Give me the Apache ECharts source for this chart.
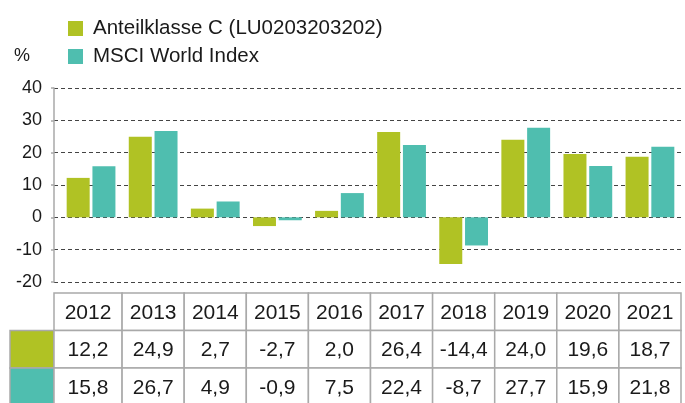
<!DOCTYPE html>
<html><head><meta charset="utf-8">
<script src="https://cdn.jsdelivr.net/npm/echarts@6/dist/echarts.min.js"></script>
<style>html,body{margin:0;padding:0;background:#fff}#c{width:685px;height:403px}</style>
</head><body><div id="c"></div><script>
const years = ['2012','2013','2014','2015','2016','2017','2018','2019','2020','2021'];
const fundName = 'Anteilklasse C (LU0203203202)';
const indexName = 'MSCI World Index';
const fundValues = [12.2, 24.9, 2.7, -2.7, 2.0, 26.4, -14.4, 24.0, 19.6, 18.7];
const indexValues = [15.8, 26.7, 4.9, -0.9, 7.5, 22.4, -8.7, 27.7, 15.9, 21.8];
const yMin = -20, yMax = 40, yStep = 10;
const unitLabel = '%';

const GREEN = '#b0c224', TEAL = '#4fbeaf', BORDER = '#a9a9a9', TXT = '#1a1a1a';
const FONT = "'Liberation Sans', Arial, sans-serif";
const AXIS_X = 54, PLOT_LEFT = 60, PLOT_RIGHT = 2, PLOT_TOP = 88, PLOT_H = 194;
const TABLE_TOP = 293, ROW_H = 37.5, SWATCH_LEFT = 10;

const chart = echarts.init(document.getElementById('c'), null, {renderer: 'canvas'});
const fmt = v => v.toFixed(1).replace('.', ',');

chart.setOption({
  animation: false,
  textStyle: {fontFamily: FONT},
  legend: {
    orient: 'vertical', left: 63, top: 13, itemWidth: 15, itemHeight: 15, itemGap: 7,
    icon: 'rect', textStyle: {fontSize: 20.5, color: TXT, fontFamily: FONT, padding: [0, 0, 0, 5]},
    data: [fundName, indexName]
  },
  grid: [
    {left: AXIS_X, right: PLOT_RIGHT, top: PLOT_TOP, height: PLOT_H},
    {left: PLOT_LEFT, right: PLOT_RIGHT + 2, top: PLOT_TOP, height: PLOT_H}
  ],
  xAxis: [
    {type: 'category', gridIndex: 0, data: years, show: false},
    {type: 'category', gridIndex: 1, data: years, show: false}
  ],
  yAxis: [
    {type: 'value', gridIndex: 0, min: yMin, max: yMax, interval: yStep,
     axisLine: {show: true, lineStyle: {color: BORDER, width: 1.5}},
     axisTick: {show: true, length: 3, lineStyle: {color: BORDER, width: 1.5}},
     axisLabel: {fontSize: 18, color: TXT, margin: 12, fontFamily: FONT},
     splitLine: {show: true, lineStyle: {color: '#444', width: 1.2, type: [4, 3]}}},
    {type: 'value', gridIndex: 1, min: yMin, max: yMax, interval: yStep, show: false,
     splitLine: {show: false}}
  ],
  series: [
    {name: fundName, type: 'bar', xAxisIndex: 1, yAxisIndex: 1, data: fundValues,
     itemStyle: {color: GREEN}, barWidth: 23, barGap: '12%'},
    {name: indexName, type: 'bar', xAxisIndex: 1, yAxisIndex: 1, data: indexValues,
     itemStyle: {color: TEAL}, barWidth: 23, barGap: '12%'}
  ]
});

const c0 = chart.convertToPixel({xAxisIndex: 1}, 0);
const c1 = chart.convertToPixel({xAxisIndex: 1}, 1);
const cw = c1 - c0;
const graphics = [];
graphics.push({type: 'text', left: 14, top: 47, style: {text: unitLabel, fill: TXT, font: '18px ' + FONT}});
const rows = [null, fundValues, indexValues];
const rowColors = [null, GREEN, TEAL];
for (let r = 0; r < 3; r++) {
  const y = TABLE_TOP + r * ROW_H;
  if (r > 0) {
    graphics.push({type: 'rect', shape: {x: SWATCH_LEFT, y: y, width: AXIS_X - SWATCH_LEFT, height: ROW_H},
      style: {fill: rowColors[r], stroke: BORDER, lineWidth: 1.5}, z: 10});
  }
  for (let i = 0; i < years.length; i++) {
    const cx = chart.convertToPixel({xAxisIndex: 1}, i);
    const x0 = i === 0 ? AXIS_X : cx - cw / 2;
    const x1 = cx + cw / 2;
    graphics.push({type: 'rect', shape: {x: x0, y: y, width: x1 - x0, height: ROW_H},
      style: {fill: '#fff', stroke: BORDER, lineWidth: 1.5}, z: 10});
    const t = r === 0 ? years[i] : fmt(rows[r][i]);
    graphics.push({type: 'text', x: (x0 + x1) / 2, y: y + ROW_H / 2 + 1, z: 11,
      style: {text: t, fill: TXT, font: '21px ' + FONT, align: 'center', verticalAlign: 'middle'}});
  }
}
chart.setOption({graphic: graphics});
</script></body></html>
